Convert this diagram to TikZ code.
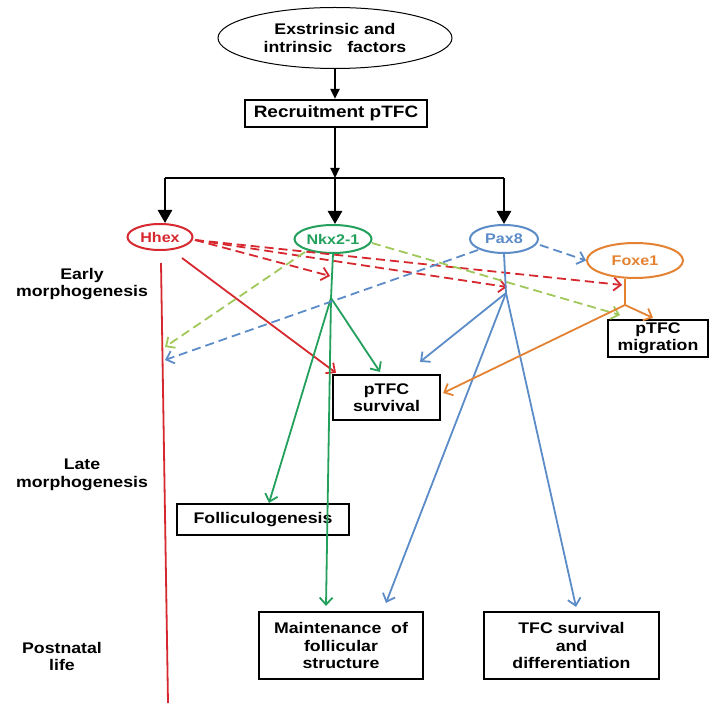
\documentclass[tikz,border=0pt]{standalone}
\usepackage{fontspec}
\setmainfont{Liberation Sans}[FakeStretch=1.15]
\usetikzlibrary{shapes.geometric,arrows.meta}
\definecolor{cred}{RGB}{214,40,46}
\definecolor{cgreen}{RGB}{34,160,92}
\definecolor{clgreen}{RGB}{160,200,90}
\definecolor{cblue}{RGB}{92,140,200}
\definecolor{corange}{RGB}{228,130,50}
\begin{document}
\begin{tikzpicture}[x=1pt,y=-1pt,
  txt/.style={font=\bfseries\fontsize{15.4}{17.5}\selectfont, align=center, inner sep=0pt},
  box/.style={txt, draw, line width=2.2pt, rectangle},
  gene/.style={ellipse, draw, line width=2pt, font=\bfseries\fontsize{14}{16}\selectfont, inner sep=0pt},
  blk/.style={line width=2pt, -{Triangle[length=10pt,width=9pt]}},
  big/.style={line width=2.6pt, -{Triangle[length=13pt,width=14pt]}},
  cline/.style={line width=1.8pt},
  carr/.style={line width=1.8pt, -{Straight Barb[length=7pt,width=13pt]}},
  dsh/.style={line width=1.8pt, dash pattern=on 9pt off 5pt}
]
\fill[white] (0,0) rectangle (711,703);
\useasboundingbox (0,0) rectangle (711,703);

% top
\node[ellipse, draw, line width=1pt, minimum width=234pt, minimum height=61pt, txt] (ext) at (335,38) {Exstrinsic and\\intrinsic\ \ \ factors};
\node[box, minimum width=182pt, minimum height=27pt, font=\bfseries\fontsize{16.5}{19}\selectfont] (rec) at (336,113.5) {Recruitment pTFC};

% genes
\node[gene, cred, minimum width=65pt, minimum height=26pt] (hhex) at (160,237) {Hhex};
\node[gene, cgreen, minimum width=77pt, minimum height=28pt] (nkx) at (333,239) {Nkx2-1};
\node[gene, cblue, minimum width=68pt, minimum height=28pt] (pax) at (504,239) {Pax8};
\node[gene, corange, minimum width=96pt, minimum height=35pt] (foxe) at (635,260.5) {Foxe1};

% boxes
\node[box, minimum width=100pt, minimum height=37pt] (mig) at (658,338.5) {pTFC\\migration};
\node[box, minimum width=107pt, minimum height=45pt] (surv) at (386.5,397.5) {pTFC\\survival};
\node[box, minimum width=172pt, minimum height=31pt] (fol) at (263,519.5) {Folliculogenesis};
\node[box, minimum width=164pt, minimum height=67pt] (maint) at (341,645.5) {Maintenance\ \ of\\follicular\\structure};
\node[box, minimum width=175pt, minimum height=67pt] (tfc) at (571.5,645.5) {TFC survival\\and\\differentiation};

% stage labels
\node[txt] (early) at (82,284) {Early\\morphogenesis};
\node[txt] (late) at (82,475) {Late\\morphogenesis};
\node[txt] (post) at (62,656.5) {Postnatal\\life};

% black connectors
\coordinate (hl) at (335,178);
\coordinate (hlL) at (165,178);
\coordinate (hlR) at (504,178);
\draw[blk] (ext.south) -- (ext.south |- rec.north);
\draw[blk] (rec.south -| hl) -- (hl);
\draw[line width=2pt] (hlL) -- (hlR);
\draw[big] (hlL) -- (hlL |- hhex.north);
\draw[big] (hl) -- (hl |- nkx.north);
\draw[big] (hlR) -- (hlR |- pax.north);

% branch points
\coordinate (nb) at (331,298);
\coordinate (pb) at (506,293);
\coordinate (fb) at (625,305);

% Hhex (red)
\coordinate (hv1) at (161,263);
\coordinate (hv2) at (168,703);
\coordinate (hs) at (182,258);
\coordinate (hd) at (195,240);
\coordinate (rg) at (165,347);
\coordinate (rb) at (165,360);
\draw[cline, cred] (hv1) -- (hv2);
\draw[carr, cred] (hs) -- ([xshift=-50.5pt,yshift=1pt]surv.north);
\draw[dsh, carr, cred] (hd) -- ([xshift=-1pt,yshift=22pt]nb);
\draw[dsh, carr, cred] (hd) -- ([xshift=1pt,yshift=6pt]pb);
\draw[dsh, carr, cred] (hd) -- ([xshift=-3pt,yshift=20pt]fb);

% Nkx2-1 (green)
\draw[cline, cgreen] (nkx.south) -- (nb);
\draw[carr, cgreen] (nb) -- ([xshift=-6.5pt,yshift=2pt]surv.north);
\draw[carr, cgreen] (nb) -- ([xshift=6pt]fol.north);
\draw[carr, cgreen] (nb) -- ([xshift=-15pt,yshift=5pt]maint.north);
\draw[dsh, carr, clgreen] ([xshift=39pt,yshift=-4pt]nkx.center) -- ([xshift=-5pt,yshift=-10pt]fb);
\draw[dsh, carr, clgreen] ([xshift=-28pt,yshift=-13pt]nkx.center) -- (rg);

% Pax8 (blue)
\draw[cline, cblue] (pax.south) -- (pb);
\draw[carr, cblue] (pb) -- ([xshift=33.5pt,yshift=12pt]surv.north);
\draw[carr, cblue] (pb) -- ([xshift=45pt,yshift=8pt]maint.north);
\draw[carr, cblue] (pb) -- ([xshift=4.5pt,yshift=4pt]tfc.north);
\draw[dsh, carr, cblue] ([xshift=-26pt,yshift=-11pt]pax.center) -- (rb);
\draw[dsh, carr, cblue] ([xshift=36pt,yshift=-6pt]pax.center) -- (foxe.west);

% Foxe1 (orange)
\draw[cline, corange] (fb |- foxe.south) -- (fb);
\draw[carr, corange] (fb) -- ([xshift=-5pt,yshift=1pt]mig.north);
\draw[carr, corange] (fb) -- ([xshift=2pt,yshift=4.5pt]surv.east);
\end{tikzpicture}
\end{document}
